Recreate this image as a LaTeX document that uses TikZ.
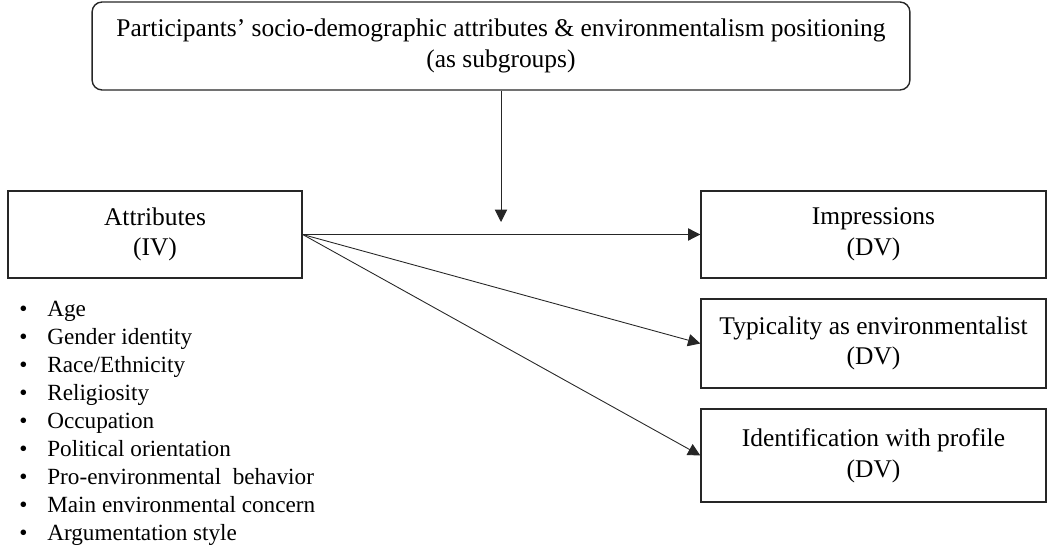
\documentclass[tikz,border=0pt]{standalone}
\usepackage{fontspec}
\setmainfont{Liberation Serif}
\usetikzlibrary{arrows.meta}
\newcommand{\bitem}[1]{\makebox[0.56cm][l]{\textbullet}#1}

\begin{document}
\begin{tikzpicture}[x=0.02cm, y=-0.02cm, >={Triangle[length=7pt,width=7pt]}]
    \tikzstyle{box} = [rectangle, draw=black!85, line width=0.8pt, inner sep=0pt, text centered, align=center, font=\fontsize{14.5}{17.5}\selectfont]
    \tikzstyle{dv} = [box, minimum width=6.9cm]
    \tikzstyle{link} = [->, draw=black!85, line width=0.5pt]
    \useasboundingbox (0,0) rectangle (1048,546);

    % Subgroups (moderator)
    \node [box, rounded corners=0.2cm, minimum width=16.36cm, minimum height=1.76cm] (subgroups) at (501,46) {Participants’ socio-demographic attributes \& environmentalism positioning\\(as subgroups)};
    \coordinate (mod) at (501,222);

    % Independent variable
    \node [box, minimum width=5.88cm, minimum height=1.74cm] (attr) at (155,234.5) {Attributes\\(IV)};
    \node [anchor=north west, inner sep=0pt, align=left, font=\fontsize{13.2}{15.9}\selectfont] (attrlist) at (19,301) {\bitem{Age}\\\bitem{Gender identity}\\\bitem{Race/Ethnicity}\\\bitem{Religiosity}\\\bitem{Occupation}\\\bitem{Political orientation}\\\bitem{Pro-environmental\ \ behavior}\\\bitem{Main environmental concern}\\\bitem{Argumentation style}};

    % Dependent variables
    \node [dv, minimum height=1.74cm] (impr) at (873.5,234.5) {Impressions\\(DV)};
    \node [dv, minimum height=1.78cm] (typ) at (873.5,343.5) {Typicality as environmentalist\\(DV)};
    \node [dv, minimum height=1.86cm] (ident) at (873.5,455.5) {Identification with profile\\(DV)};

    % Arrows
    \draw [link] (subgroups.south) -- (mod);
    \draw [link] (attr.east) -- (impr.west);
    \draw [link] (attr.east) -- (typ.west);
    \draw [link] (attr.east) -- (ident.west);
\end{tikzpicture}
\end{document}
